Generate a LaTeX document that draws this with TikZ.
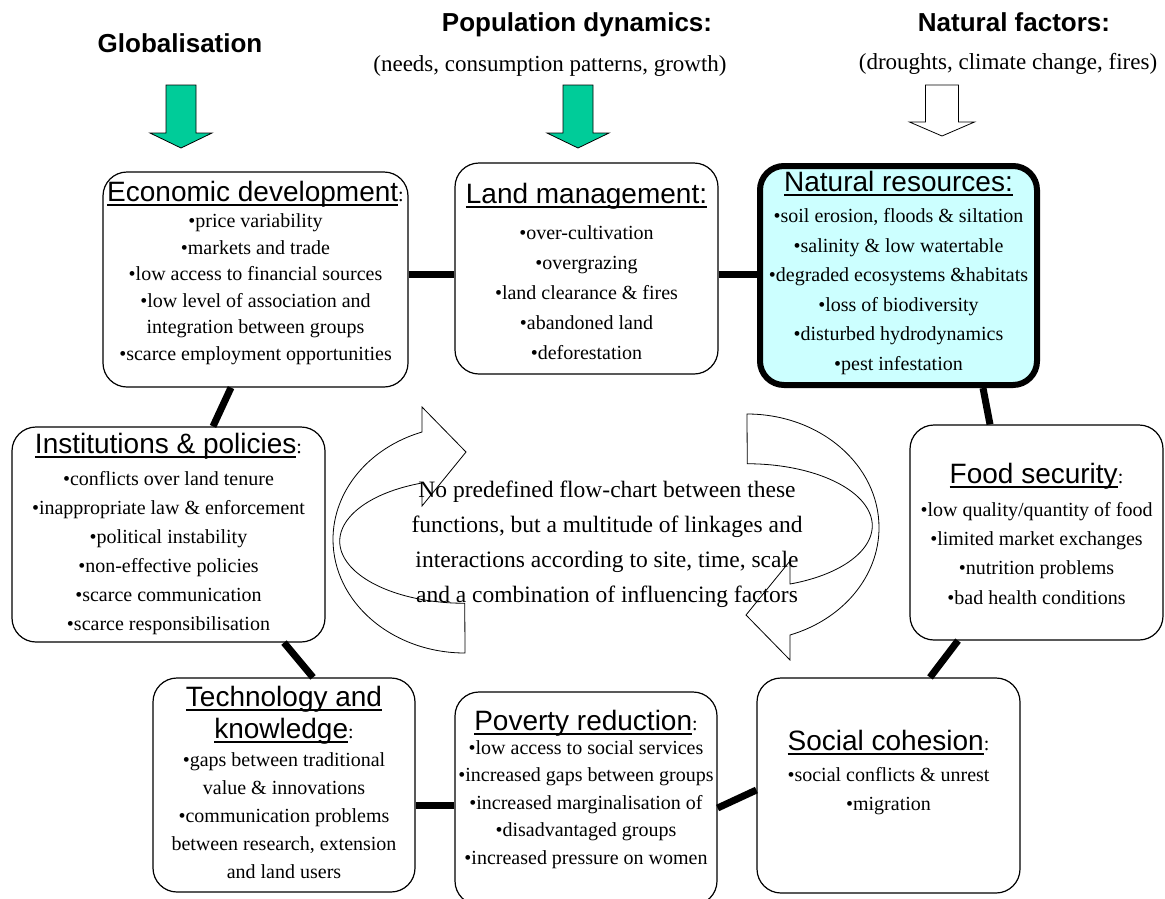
\documentclass[tikz,border=0pt]{standalone}
\usepackage{fontspec}
\setmainfont{Liberation Serif}
\setsansfont{Liberation Sans}
\usetikzlibrary{calc}
\definecolor{arrowgreen}{RGB}{0,204,153}
\definecolor{natfill}{RGB}{204,255,255}
\newsavebox\ulbox
\newcommand\uln[1]{\sbox\ulbox{#1}\smash{\rlap{\rule[-0.15em]{\wd\ulbox}{0.06em}}}\usebox\ulbox}
\newcommand\ttl[1]{{\fontsize{28}{30}\sffamily\selectfont\uln{#1}}}
\begin{document}
\begin{tikzpicture}[x=1pt,y=1pt,
  box/.style={draw, rounded corners=24pt, line width=1.2pt, inner sep=0pt},
  natbox/.style={box, line width=6pt, fill=natfill},
  txt/.style={align=center, inner sep=0pt, anchor=north},
  link/.style={line width=7pt},
  hdr/.style={font=\fontsize{26}{30}\sffamily\bfseries\selectfont, inner sep=0pt, anchor=base},
  sub/.style={font=\fontsize{23}{27}\selectfont, inner sep=0pt, anchor=base},
  downarrow/.style={draw, line width=0.8pt},
  curv/.style={draw, line width=0.8pt, fill=white},
]
\useasboundingbox (0,0) rectangle (1165,-898);

% ---------- headers ----------
\node[hdr] (glob) at (180,-52) {Globalisation};
\node[hdr] (pop) at (577,-31) {Population dynamics:};
\node[sub] (popsub) at (550,-71) {(needs, consumption patterns, growth)};
\node[hdr] (natf) at (1014,-31) {Natural factors:};
\node[sub] (natfsub) at (1008,-69) {(droughts, climate change, fires)};

% ---------- header block arrows ----------
\begin{scope}[shift={(181,0)}]
  \draw[downarrow, fill=arrowgreen] (-15,-85) -- (15,-85) -- (15,-133) -- (31,-133) -- (0,-148) -- (-31,-133) -- (-15,-133) -- cycle;
\end{scope}
\begin{scope}[shift={(578,0)}]
  \draw[downarrow, fill=arrowgreen] (-15,-85) -- (15,-85) -- (15,-133) -- (31,-133) -- (0,-148) -- (-31,-133) -- (-15,-133) -- cycle;
\end{scope}
\begin{scope}[shift={(942,0)}]
  \draw[downarrow, fill=white] (-16.5,-85) -- (16.5,-85) -- (16.5,-122) -- (32.5,-122) -- (0,-136) -- (-32.5,-122) -- (-16.5,-122) -- cycle;
\end{scope}

% ---------- boxes ----------
\node[box, minimum width=305pt, minimum height=215pt] (econ) at (255.5,-279.5) {};
\node[box, minimum width=263pt, minimum height=211pt] (land) at (586.5,-268.5) {};
\node[natbox, minimum width=277pt, minimum height=219pt] (nat) at (898.5,-275.5) {};
\node[box, minimum width=313pt, minimum height=215pt] (inst) at (168.5,-534.5) {};
\node[box, minimum width=253pt, minimum height=215pt] (food) at (1036.5,-532.5) {};
\node[box, minimum width=262pt, minimum height=214pt] (tech) at (284,-785) {};
\node[box, minimum width=262pt, minimum height=213pt] (pov) at (586,-798.5) {};
\node[box, minimum width=263pt, minimum height=215pt] (soc) at (888.5,-785.5) {};

% ---------- box texts ----------
\node[txt, font=\fontsize{20}{26.5}\selectfont] (econt) at (255.5,-181) {%
\ttl{Economic development}:\\
•price variability\\
•markets and trade\\
•low access to financial sources\\
•low level of association and\\
integration between groups\\
•scarce employment opportunities};

\node[txt, font=\fontsize{20}{30}\selectfont] (landt) at (586.5,-183) {%
\ttl{Land management:}\\[6pt]
•over-cultivation\\
•overgrazing\\
•land clearance \& fires\\
•abandoned land\\
•deforestation};

\node[txt, font=\fontsize{20}{29.5}\selectfont] (natt) at (898.5,-171) {%
\ttl{Natural resources:}\\[2pt]
•soil erosion, floods \& siltation\\
•salinity \& low watertable\\
•degraded ecosystems \&habitats\\
•loss of biodiversity\\
•disturbed hydrodynamics\\
•pest infestation};

\node[txt, font=\fontsize{20}{29}\selectfont] (instt) at (168.5,-433) {%
\ttl{Institutions \& policies}:\\[3pt]
•conflicts over land tenure\\
•inappropriate law \& enforcement\\
•political instability\\
•non-effective policies\\
•scarce communication\\
•scarce responsibilisation};

\node[txt, font=\fontsize{20}{29.5}\selectfont] (foodt) at (1036.5,-463) {%
\ttl{Food security}:\\[3pt]
•low quality/quantity of food\\
•limited market exchanges\\
•nutrition problems\\
•bad health conditions};

\node[txt, font=\fontsize{20}{28}\selectfont] (techt) at (284,-686) {%
\ttl{Technology and}\\[4pt]
\ttl{knowledge}:\\
•gaps between traditional\\
value \& innovations\\
•communication problems\\
between research, extension\\
and land users};

\node[txt, font=\fontsize{20}{27.5}\selectfont] (povt) at (586,-710) {%
\ttl{Poverty reduction}:\\[-4pt]
•low access to social services\\
•increased gaps between groups\\
•increased marginalisation of\\
•disadvantaged groups\\
•increased pressure on women};

\node[txt, font=\fontsize{20}{29}\selectfont] (soct) at (888.5,-730) {%
\ttl{Social cohesion}:\\[2pt]
•social conflicts \& unrest\\
•migration};

% ---------- connectors ----------
\draw[link] (econ.east |- 0,-274) -- (land.west |- 0,-274);
\draw[link] (land.east |- 0,-274) -- (nat.west |- 0,-274);
\draw[link] (nat.south -| 983,0) -- (food.north -| 990,0);
\draw[link] (food.south -| 958,0) -- (soc.north -| 930,0);
\draw[link] (soc.west |- 0,-790) -- (pov.east |- 0,-808);
\draw[link] (pov.west |- 0,-805) -- (tech.east |- 0,-805);
\draw[link] (tech.north -| 313,0) -- (inst.south -| 284,0);
\draw[link] (inst.north -| 213,0) -- (econ.south -| 231,0);

% ---------- central curved arrows ----------
\draw[curv] (465,-653) arc[start angle=270, end angle=109, x radius=132, y radius=113.6]
  -- (422,-407) -- (466,-452) -- (422,-506) -- (422,-483)
  arc[start angle=110, end angle=270, x radius=125, y radius=62] -- cycle;
\begin{scope}[rotate around={180:(606,-533.5)}]
\draw[curv] (465,-653) arc[start angle=270, end angle=109, x radius=132, y radius=113.6]
  -- (422,-407) -- (466,-452) -- (422,-506) -- (422,-483)
  arc[start angle=110, end angle=270, x radius=125, y radius=62] -- cycle;
\end{scope}

\node[align=center, inner sep=0pt, font=\fontsize{23.5}{35}\selectfont] (centre) at (607,-544) {%
No predefined flow-chart between these\\
functions, but a multitude of linkages and\\
interactions according to site, time, scale\\
and a combination of influencing factors};

\end{tikzpicture}
\end{document}
